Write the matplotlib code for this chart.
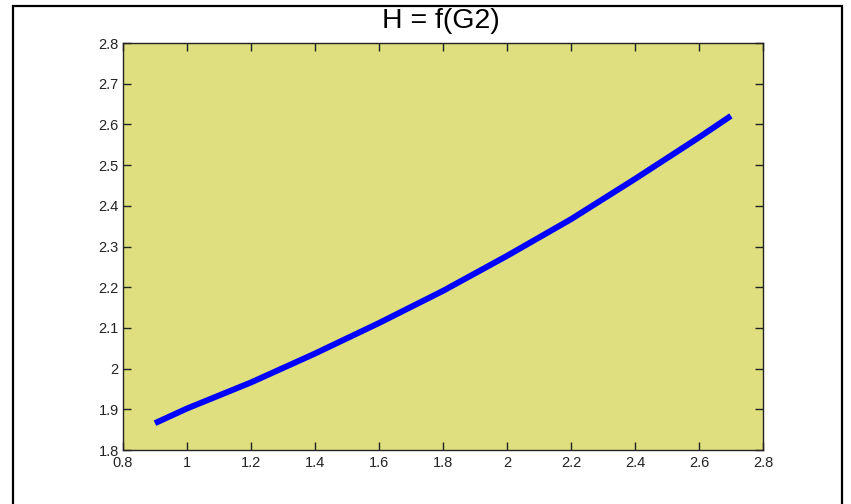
import matplotlib
matplotlib.use("Agg")
import matplotlib.pyplot as plt
from matplotlib.patches import Rectangle

# data
g2 = [0.9, 1.0, 1.2, 1.4, 1.6, 1.8, 2.0, 2.2, 2.4, 2.6, 2.7]
h = [1.866, 1.902, 1.966, 2.037, 2.112, 2.191, 2.277, 2.367, 2.466, 2.568, 2.621]

xticks = [0.8, 1.0, 1.2, 1.4, 1.6, 1.8, 2.0, 2.2, 2.4, 2.6, 2.8]
xticklabels = ['0.8', '1', '1.2', '1.4', '1.6', '1.8', '2', '2.2', '2.4', '2.6', '2.8']
yticks = [1.8, 1.9, 2.0, 2.1, 2.2, 2.3, 2.4, 2.5, 2.6, 2.7, 2.8]
yticklabels = ['1.8', '1.9', '2', '2.1', '2.2', '2.3', '2.4', '2.5', '2.6', '2.7', '2.8']

plt.rcParams['font.family'] = ['Liberation Sans', 'DejaVu Sans']

fig = plt.figure(figsize=(8.51, 5.04), dpi=100)
fig.patch.set_facecolor('white')

# black frame around the figure
fig.patches.append(Rectangle((0.0153, -0.05), 0.974, 1.038, transform=fig.transFigure,
                             fill=False, edgecolor='black', linewidth=1.6))

ax = fig.add_axes([0.1445, 0.1071, 0.752, 0.8075])
ax.set_facecolor('#dfdf80')
ax.plot(g2, h, color='#0000ff', linewidth=4.3, solid_capstyle='butt')

ax.set_xlim(0.8, 2.8)
ax.set_ylim(1.8, 2.8)
ax.set_xticks(xticks)
ax.set_xticklabels(xticklabels)
ax.set_yticks(yticks)
ax.set_yticklabels(yticklabels)
ax.tick_params(direction='in', length=6, width=1, top=True, right=True,
               labelsize=10.5, colors='#222222')
ax.tick_params(axis='x', pad=4)
ax.tick_params(axis='y', pad=3)
for sp in ax.spines.values():
    sp.set_linewidth(1)
    sp.set_color('#222222')

fig.text(0.518, 0.945, 'H = f(G2)', fontsize=20.5, ha='center', va='baseline')

fig.savefig('out.png', dpi=100)
